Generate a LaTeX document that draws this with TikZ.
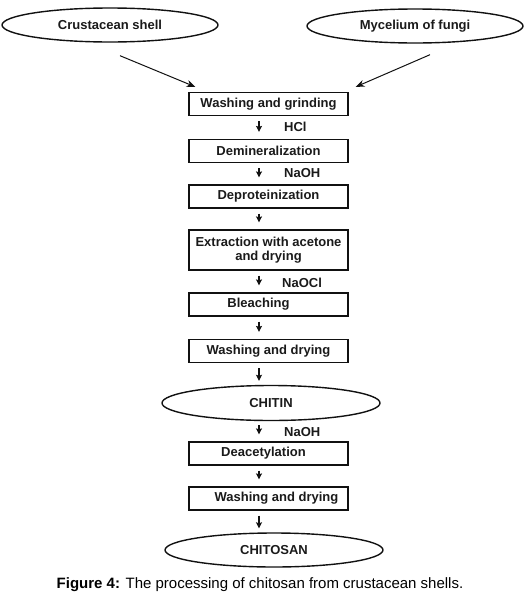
\documentclass[tikz,border=0pt]{standalone}
\usepackage{fontspec}
\setmainfont{Liberation Sans}
\usepackage{tikz}
\usetikzlibrary{arrows.meta,calc,positioning,shapes.geometric}
\definecolor{cizgi}{HTML}{111111}
\definecolor{yazi}{HTML}{1A1A1A}

\begin{document}
\begin{tikzpicture}[x=1pt,y=-1pt,
  kutu/.style={draw=cizgi,line width=1.2pt,minimum width=159pt,minimum height=23pt,inner sep=1pt,
    text=yazi,font=\bfseries\fontsize{13}{14}\selectfont,align=center},
  elips/.style={draw=cizgi,ellipse,line width=1.4pt,minimum width=216pt,minimum height=34pt,inner sep=0pt,
    text=yazi,font=\bfseries\fontsize{13}{14}\selectfont},
  kimyasal/.style={anchor=west,text=yazi,inner sep=0pt,font=\bfseries\fontsize{13}{14}\selectfont},
  ok/.style={-{Stealth[length=6pt,width=6pt,inset=1pt]},line width=1.1pt,cizgi},
  capraz/.style={-{Stealth[length=9pt,width=7pt]},line width=1pt,cizgi}]
\useasboundingbox (0,0) rectangle (525,600);
% kaynaklar
\node[elips] (kabuk) at (110,25) {Crustacean shell};
\node[elips] (mantar) at (415,26) {Mycelium of fungi};
% islem adimlari
\node[kutu] (yikama) at (268.5,104) {Washing and grinding};
\node[kutu] (demin) at (268.5,151) {Demineralization};
\node[kutu] (deprot) at (268.5,196.5) {Deproteinization};
\node[kutu,minimum height=40pt] (ekstr) at (268.5,250) {Extraction with acetone\\and drying};
\node[kutu] (agart) at (268.5,304.5) {\hspace*{-20pt}Bleaching};
\node[kutu] (kurut) at (268.5,351) {Washing and drying};
\node[elips,minimum width=218pt,minimum height=35pt] (kitin) at (271,403) {CHITIN};
\node[kutu] (deasetil) at (268.5,453.5) {\hspace*{-10pt}Deacetylation};
\node[kutu] (kurutiki) at (268.5,498.5) {\hspace*{16pt}Washing and drying};
\node[elips,minimum width=218pt] (kitosan) at (274,550) {CHITOSAN};
% oklar
\draw[capraz] ([shift={(10,13)}]kabuk.south) -- ([shift={(7,-5)}]yikama.north west);
\draw[capraz] ([shift={(15,11)}]mantar.south) -- ([shift={(7,-5)}]yikama.north east);
\foreach \a/\b in {yikama/demin,demin/deprot,deprot/ekstr,ekstr/agart,agart/kurut,deasetil/kurutiki}
  \draw[ok] ([shift={(-9.5,5)}]\a.south) -- ([shift={(-9.5,-7)}]\b.north);
\draw[ok] ([shift={(-9.5,5)}]kurut.south) -- ([shift={(-12,-4)}]kitin.north);
\draw[ok] ([shift={(-12,4)}]kitin.south) -- ([shift={(-9.5,-7)}]deasetil.north);
\draw[ok] ([shift={(-9.5,5)}]kurutiki.south) -- ([shift={(-15,-4)}]kitosan.north);
% kimyasallar
\node[kimyasal] (hcl) at (284,127) {HCl};
\node[kimyasal] (naoh) at (284,173) {NaOH};
\node[kimyasal] (naocl) at (282,283) {NaOCl};
\node[kimyasal] (naohiki) at (284,432) {NaOH};
% alt yazi
\node[text=black,font=\fontsize{15}{17}\selectfont] (baslik) at (260,585)
  {\textbf{Figure 4:} The processing of chitosan from crustacean shells.};
\end{tikzpicture}
\end{document}
